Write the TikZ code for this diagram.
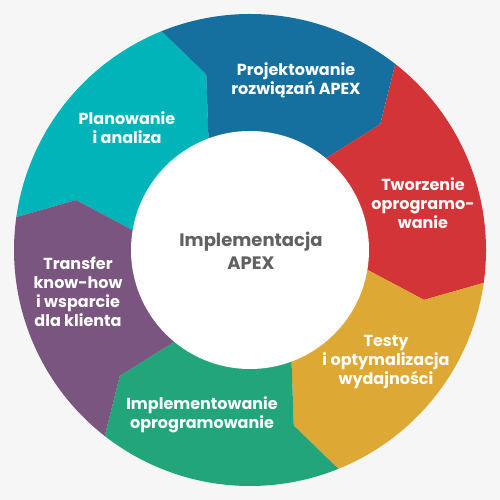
\documentclass[tikz,border=0pt]{standalone}
\usepackage{fontspec}
\setmainfont{Poppins}
\definecolor{bgc}{HTML}{F6F6F6}
\definecolor{cteal}{HTML}{00B4B9}
\definecolor{cblue}{HTML}{1570A0}
\definecolor{cred}{HTML}{D23438}
\definecolor{cyellow}{HTML}{DDA934}
\definecolor{cgreen}{HTML}{22A57B}
\definecolor{cpurple}{HTML}{7A5580}
\definecolor{ctext}{HTML}{616161}
\newcommand{\ringseg}[2]{%
  \fill[#2] (#1:236pt) arc[start angle=#1, end angle=#1-60, radius=236pt]
    -- (#1-68:181pt) -- (#1-60:110pt)
    arc[start angle=#1-60, end angle=#1, radius=110pt]
    -- (#1-8:181pt) -- cycle;}
\tikzset{
  lbl/.style={text=white, align=center, inner sep=0pt,
    font=\bfseries\fontsize{16}{19}\selectfont},
  ctr/.style={text=ctext, align=center, inner sep=0pt,
    font=\bfseries\fontsize{18}{23}\selectfont}
}
\begin{document}
\begin{tikzpicture}[x=1pt,y=1pt]
\fill[bgc] (0,0) rectangle (500,500);
\useasboundingbox (0,0) rectangle (500,500);
\begin{scope}[shift={(250,250)}]
  \ringseg{172}{cteal}
  \ringseg{112}{cblue}
  \ringseg{52}{cred}
  \ringseg{-8}{cyellow}
  \ringseg{-68}{cgreen}
  \ringseg{-128}{cpurple}
  \fill[white] (0,0) circle[radius=119pt];
\end{scope}
\node[ctr] (center) at (251,249) {Implementacja\\APEX};
\node[lbl] (plan) at (127,372) {Planowanie\\i analiza};
\node[lbl] (proj) at (296,420) {Projektowanie\\rozwiązań APEX};
\node[lbl] (tworz) at (423,297) {Tworzenie\\oprogramo-\\wanie};
\node[lbl] (testy) at (386,138) {Testy\\i optymalizacja\\wydajności};
\node[lbl] (impl) at (202,85) {Implementowanie\\oprogramowanie};
\node[lbl] (trans) at (78,208) {Transfer\\know-how\\i wsparcie\\dla klienta};
\end{tikzpicture}
\end{document}
